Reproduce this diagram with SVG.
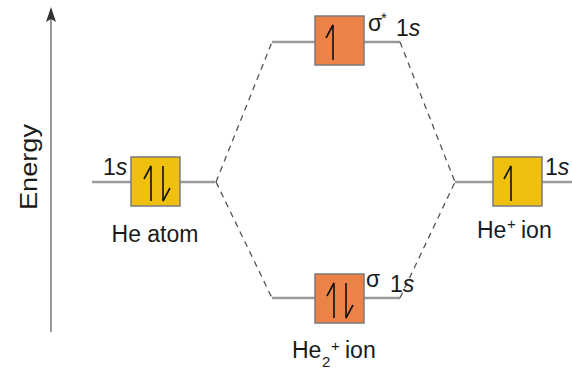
<svg xmlns="http://www.w3.org/2000/svg" width="572" height="372" viewBox="0 0 572 372">
<style>
.lvl{stroke:#9a9a9a;stroke-width:2.5;fill:none}
.dash{stroke:#555;stroke-width:1.3;stroke-dasharray:6,5;fill:none}
.y{fill:#f0c010;stroke:#7a7a7a;stroke-width:1.5}
.o{fill:#ec8248;stroke:#7a7a7a;stroke-width:1.5}
.e{stroke:#111;stroke-width:1.6;fill:none;stroke-linejoin:miter}
text{font-family:"Liberation Sans",Arial,sans-serif;fill:#1a1a1a;font-size:23px}
.it{font-style:italic}
.sm{font-size:15px}
</style>
<g id="axis">
<line x1="51" y1="332" x2="51" y2="9" stroke="#777" stroke-width="1.5"/>
<path d="M46,22 L51,7 L56,22 L51,19 Z" fill="#333"/>
<text x="37" y="167" transform="rotate(-90 37 167)" text-anchor="middle" font-size="20" textLength="86" lengthAdjust="spacingAndGlyphs">Energy</text>
</g>
<g id="connectors">
<line class="lvl" x1="92" y1="182" x2="215" y2="182"/>
<line class="lvl" x1="272" y1="42" x2="400" y2="42"/>
<line class="lvl" x1="272" y1="298" x2="400" y2="298"/>
<line class="lvl" x1="455" y1="182" x2="572" y2="182"/>
<path class="dash" d="M216,182 L272,42"/>
<path class="dash" d="M216,182 L272,298"/>
<path class="dash" d="M400,42 L455,182"/>
<path class="dash" d="M400,298 L455,182"/>
</g>
<g id="he-atom">
<rect class="y" x="131" y="157" width="49" height="49"/>
<path class="e" d="M151,201 L151,166 L144,179"/>
<path class="e" d="M163,166 L163,201 L170,188"/>
<text x="103" y="175" font-size="21">1<tspan class="it">s</tspan></text>
<text x="155" y="242" text-anchor="middle" font-size="24">He atom</text>
</g>
<g id="sigma-star">
<rect class="o" x="315" y="16" width="49" height="49"/>
<path class="e" d="M333,60 L333,25 L326,38"/>
<text x="368" y="31" font-size="20">σ</text>
<text x="381" y="23" class="sm">*</text>
<text x="396" y="36" font-size="21">1<tspan class="it">s</tspan></text>
</g>
<g id="sigma">
<rect class="o" x="315" y="274" width="49" height="49"/>
<path class="e" d="M334,318 L334,283 L327,296"/>
<path class="e" d="M346,283 L346,318 L353,305"/>
<text x="366" y="287" font-size="20">σ</text>
<text x="390" y="292" font-size="21">1<tspan class="it">s</tspan></text>
<text x="292" y="358" font-size="24">He</text>
<text x="322" y="367" class="sm">2</text>
<text x="331" y="351" class="sm">+</text>
<text x="345" y="358" font-size="24">ion</text>
</g>
<g id="he-ion">
<rect class="y" x="493" y="157" width="49" height="49"/>
<path class="e" d="M511,201 L511,166 L504,179"/>
<text x="545" y="175" font-size="21">1<tspan class="it">s</tspan></text>
<text x="477" y="238" font-size="24">He</text>
<text x="507" y="229" class="sm">+</text>
<text x="521" y="238" font-size="24">ion</text>
</g>
</svg>
